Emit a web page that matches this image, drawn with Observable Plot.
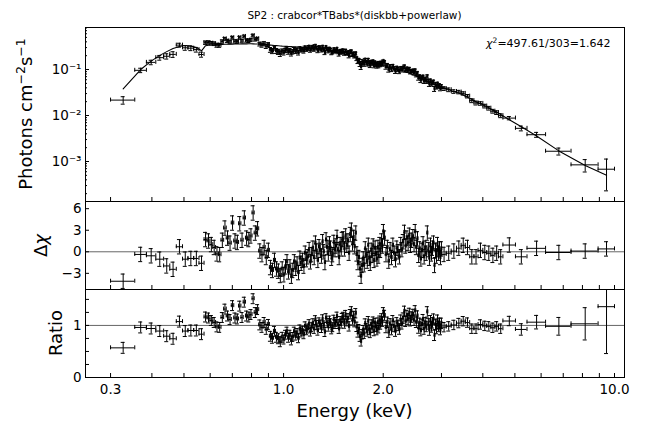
<!DOCTYPE html>
<html><head><meta charset="utf-8">
<script src="https://cdn.jsdelivr.net/npm/d3@7"></script>
<script src="https://cdn.jsdelivr.net/npm/@observablehq/plot@0.6"></script>
<style>
body{margin:0;background:#fff;}
#chart{position:relative;width:654px;height:425px;font-family:"DejaVu Sans",sans-serif;}
#chart svg{position:absolute;left:0;}
</style></head><body><div id="chart"></div>
<script>
// ---- data ----
const title = "SP2 : crabcor*TBabs*(diskbb+powerlaw)";
const chiText = "=497.61/303=1.642";

// energy bin edges (keV)
const edges = [0.300,0.355,0.385,0.411,0.434,0.453,0.474,0.495,0.514,0.535,0.555,0.575,
0.587,0.599,0.611,0.623,0.635,0.647,0.659,0.671,0.683,0.695,0.707,0.719,0.731,0.743,0.755,0.767,0.779,0.791,0.803,0.815,0.828,0.841,0.854,0.867,0.880,0.893,0.906,0.919,0.932,0.945,0.958,0.971,0.984,0.997,
1.008,1.019,1.029,1.040,1.051,1.061,1.072,1.083,1.093,1.104,1.115,1.125,1.136,1.147,1.157,1.168,1.179,1.189,1.200,1.211,1.221,1.232,1.243,1.253,1.264,1.275,1.285,1.296,1.307,1.317,1.328,1.339,1.349,1.360,1.371,1.381,1.392,1.403,1.413,1.424,1.435,1.445,1.456,1.467,1.477,1.488,1.499,1.509,
1.5215,1.534,1.5465,1.559,1.5715,1.584,1.5965,1.609,1.6215,1.634,1.6465,1.659,1.6715,1.684,1.6965,1.709,1.7215,1.734,1.7465,1.759,1.7715,1.784,1.7965,1.809,1.8215,1.834,1.8465,1.859,1.8715,1.884,1.8965,1.909,1.9215,1.934,1.9465,1.959,1.9715,1.984,1.9965,2.009,
2.029,2.049,2.069,2.089,2.109,2.129,2.149,2.169,2.189,2.209,2.229,2.249,2.269,2.289,2.309,2.329,2.349,2.369,2.389,2.409,2.429,2.449,2.469,2.489,2.509,2.529,2.549,2.569,2.589,2.609,2.629,2.649,2.669,2.689,2.709,2.729,2.749,2.769,2.789,2.809,2.829,2.849,2.869,2.889,2.909,2.929,2.949,2.969,2.989,3.009,
3.10,3.21,3.33,3.44,3.54,3.65,3.76,3.87,4.00,4.11,4.23,4.35,4.46,4.60,
5.02,5.44,6.19,7.39,8.92,10.0];

// model (photons cm^-2 s^-1) at each bin
const model = [0.038,0.100,0.152,0.203,0.245,0.287,0.316,0.333,0.323,0.300,0.255,
0.330,0.338,0.342,0.345,0.348,0.350,0.352,0.354,0.355,0.356,0.357,0.358,0.359,0.360,0.361,0.362,0.362,0.363,0.363,0.362,0.360,0.358,0.355,0.352,0.349,0.346,0.343,0.340,0.337,0.334,0.331,0.328,0.325,0.322,
0.321,0.319,0.318,0.317,0.315,0.314,0.313,0.312,0.311,0.310,0.309,0.308,0.307,0.306,0.305,0.303,0.302,0.301,0.300,0.298,0.297,0.296,0.294,0.292,0.289,0.286,0.284,0.281,0.278,0.275,0.272,0.268,0.265,0.262,0.259,0.256,0.253,0.250,0.247,0.245,0.242,0.239,0.237,0.234,0.231,0.229,0.226,0.223,
0.220,0.216,0.212,0.208,0.205,0.201,0.198,0.194,0.190,0.187,0.183,0.180,0.177,0.174,0.171,0.168,0.166,0.163,0.160,0.157,0.155,0.152,0.150,0.148,0.146,0.144,0.142,0.140,0.138,0.136,0.134,0.132,0.131,0.129,0.127,0.126,0.124,0.123,0.121,0.120,
0.120,0.118,0.116,0.114,0.112,0.110,0.108,0.106,0.104,0.102,0.100,0.098,0.096,0.095,0.093,0.091,0.089,0.087,0.085,0.083,0.081,0.079,0.077,0.076,0.074,0.072,0.070,0.069,0.067,0.065,0.064,0.062,0.060,0.059,0.057,0.056,0.054,0.053,0.052,0.050,0.049,0.048,0.047,0.046,0.045,0.044,0.0435,0.043,0.042,0.041,
0.040,0.037,0.033,0.031,0.028,0.025,0.0225,0.020,0.018,0.0162,0.0147,0.0130,0.0118,0.0106,
0.0081,0.0057,0.0036,0.0017,0.00082,0.00050];

// residuals (delta chi) per bin
const delchi = [-4.1,-0.37,-0.56,-1.03,-1.97,-2.44,0.7,-1.03,-0.93,-0.93,-1.6,
1.7,1.5,1.0,0.6,-0.3,-0.4,1.6,3.3,1.9,1.2,4.0,1.5,1.3,3.9,1.6,4.7,1.9,1.7,2.2,5.4,2.6,3.2,0.1,-0.4,0.6,-0.8,0.2,-2.2,-2.6,-1.2,-2.4,-2.7,-3.3,-2.4,
-3.2,-2.1,-1.4,-2.8,-2.1,-3.4,-2.6,-1.4,-2.3,-1.7,-2.9,-0.9,-1.6,-1.2,-2.0,-0.2,-1.1,-0.7,0.3,-1.4,-0.4,0.5,-0.8,1.2,0.1,-1.2,0.7,0.2,-0.6,1.4,0.0,-1.5,1.65,0.6,-0.3,1.1,0.5,-0.9,-0.4,1.3,0.3,0.8,2.0,0.3,-0.8,1.0,0.4,1.7,
1.8,0.4,2.2,0.9,1.5,-0.2,2.4,3.0,1.1,2.0,0.7,2.6,-0.3,-1.5,-0.8,-2.4,-3.4,-1.9,-1.0,-1.8,0.4,-0.6,-1.3,0.9,-0.9,-1.6,0.2,-0.5,0.8,-1.2,0.5,-0.3,-1.0,0.6,-0.6,1.0,0.2,1.5,0.8,2.8,
1.9,-0.4,0.6,-1.3,0.3,-0.8,0.9,-0.2,-1.1,0.5,0.0,-0.7,1.0,0.3,1.4,2.7,0.8,1.9,1.2,2.3,0.9,1.6,2.1,1.0,2.8,0.6,1.8,-0.5,0.4,-1.0,0.2,1.1,-0.7,0.5,-0.2,2.6,0.3,-0.9,0.9,-0.3,0.5,1.2,-1.9,0.2,-0.6,1.0,-0.2,0.4,-0.8,0.4,
-0.37,-0.2,0.1,0.5,0.9,0.6,-0.7,-0.7,0.2,-0.1,-0.2,-0.5,-0.2,-0.7,
0.94,-0.7,0.48,-0.1,0.1,0.4];

// ratio error per bin
const ratioErr = [0.105,0.105,0.105,0.105,0.105,0.105,0.105,0.105,0.105,0.105,0.105,
0.095,0.095,0.095,0.095,0.095,0.095,0.095,0.095,0.095,0.095,0.095,0.095,0.095,0.095,0.095,0.095,0.095,0.095,0.095,0.095,0.095,0.095,0.095,0.095,0.095,0.095,0.095,0.095,0.095,0.095,0.095,0.095,0.095,0.095,
0.085,0.085,0.085,0.085,0.085,0.085,0.085,0.085,0.085,0.085,0.085,0.085,0.085,0.085,0.085,0.085,0.085,0.085,0.085,0.085,0.085,0.085,0.085,0.085,0.085,0.085,0.085,0.085,0.085,0.085,0.085,0.085,0.085,0.085,0.085,0.085,0.085,0.085,0.085,0.085,0.085,0.085,0.085,0.085,0.085,0.085,0.085,0.085,
0.09,0.09,0.09,0.09,0.09,0.09,0.09,0.09,0.09,0.09,0.09,0.09,0.09,0.09,0.09,0.09,0.09,0.09,0.09,0.09,0.09,0.09,0.09,0.09,0.09,0.09,0.09,0.09,0.09,0.09,0.09,0.09,0.09,0.09,0.09,0.09,0.09,0.09,0.09,0.09,
0.1,0.1,0.1,0.1,0.1,0.1,0.1,0.1,0.1,0.1,0.1,0.1,0.1,0.1,0.1,0.1,0.1,0.1,0.1,0.1,0.1,0.1,0.1,0.1,0.1,0.1,0.1,0.1,0.1,0.1,0.1,0.1,0.1,0.1,0.1,0.1,0.1,0.1,0.1,0.1,0.1,0.1,0.1,0.1,0.1,0.1,0.1,0.1,0.1,0.1,
0.09,0.09,0.09,0.09,0.09,0.09,0.09,0.09,0.09,0.09,0.09,0.09,0.09,0.09,
0.09,0.11,0.13,0.17,0.31,0.9];

// axes
const xTicks = [0.3,0.4,0.5,0.6,0.7,0.8,0.9,1,2,3,4,5,6,7,8,9,10];
const xTickLabels = ["0.3","","","","0.7","","","1.0","2.0","","","5.0","","","","","10.0"];
const fluxTicks = [1e-3,1e-2,1e-1];
const fluxTickLabels = ["10⁻³","10⁻²","10⁻¹"];
const fluxMinorTicks = [2e-4,3e-4,4e-4,5e-4,6e-4,7e-4,8e-4,9e-4,2e-3,3e-3,4e-3,5e-3,6e-3,7e-3,8e-3,9e-3,2e-2,3e-2,4e-2,5e-2,6e-2,7e-2,8e-2,9e-2,2e-1,3e-1,4e-1,5e-1,6e-1,7e-1,8e-1];
const chiTicks = [-3,0,3,6];
const chiTickLabels = ["−3","0","3","6"];
const ratioTicks = [0,0.25,0.5,0.75,1,1.25,1.5];
const ratioTickLabels = ["0","","","","1","",""];

// ---- build table ----
const n = Math.min(model.length, delchi.length, ratioErr.length, edges.length - 1);
if (n !== model.length || n !== delchi.length || n !== ratioErr.length || n !== edges.length - 1)
  console.warn("length mismatch", model.length, delchi.length, ratioErr.length, edges.length - 1);
const bins = d3.range(n).map(i => {
  const lo = edges[i], hi = edges[i+1], E = (lo + hi) / 2;
  const m = model[i], d = delchi[i], e = ratioErr[i], r = 1 + d * e;
  return {lo, hi, E, m, d, e, r, f: m * r, fe: m * e};
});

const W = 654, ML = 85, MR = 30, FW = W - ML - MR;
const xDomain = [0.252, 10.72];
const baseStyle = {fontFamily: "DejaVu Sans", fontSize: "13.5px", background: "transparent", overflow: "visible", color: "#000"};
const lab = (ticks, labels) => { const mp = new Map(ticks.map((t, i) => [t, labels[i]])); return d => mp.get(d) ?? ""; };

function errMarks(yv, ylo, yhi) {
  const s = {stroke: "#000", strokeWidth: 1, clip: true};
  return [
    Plot.ruleY(bins, {y: yv, x1: "lo", x2: "hi", ...s}),
    Plot.ruleX(bins, {x: "E", y1: ylo, y2: yhi, ...s}),
    Plot.ruleY(bins, {y: ylo, x1: "E", x2: "E", insetLeft: -2, insetRight: -2, ...s}),
    Plot.ruleY(bins, {y: yhi, x1: "E", x2: "E", insetLeft: -2, insetRight: -2, ...s}),
    Plot.ruleX(bins, {x: "lo", y1: yv, y2: yv, insetTop: -2, insetBottom: -2, ...s}),
    Plot.ruleX(bins, {x: "hi", y1: yv, y2: yv, insetTop: -2, insetBottom: -2, ...s})
  ];
}
// inward tick marks on the left and bottom of a panel of frame height FH
function tickMarks(FH, yMajor, yMinor) {
  const marks = [
    Plot.ruleX(xTicks, {x: d => d, insetTop: FH - 4, stroke: "#000"}),
    Plot.ruleY(yMajor, {y: d => d, insetRight: FW - 4, stroke: "#000"})
  ];
  if (yMinor) marks.push(Plot.ruleY(yMinor, {y: d => d, insetRight: FW - 2, stroke: "#000"}));
  return marks;
}

const chart = document.getElementById("chart");

const p1 = Plot.plot({
  width: W, height: 202, marginTop: 27, marginBottom: 1, marginLeft: ML, marginRight: MR,
  style: baseStyle,
  x: {type: "log", domain: xDomain, axis: null},
  y: {type: "log", domain: [1.35e-4, 0.82], axis: null},
  marks: [
    ...errMarks("f", d => d.f - d.fe, d => d.f + d.fe),
    Plot.line(bins, {x: "E", y: "m", stroke: "#000", strokeWidth: 1.1}),
    ...tickMarks(174, fluxTicks, fluxMinorTicks),
    Plot.axisY(fluxTicks, {anchor: "left", tickSize: 0, tickPadding: 4, tickFormat: lab(fluxTicks, fluxTickLabels), label: null}),
    Plot.frame({stroke: "#000"})
  ]
});
p1.style.top = "0px";
chart.appendChild(p1);

const p2 = Plot.plot({
  width: W, height: 90, marginTop: 1, marginBottom: 1, marginLeft: ML, marginRight: MR,
  style: baseStyle,
  x: {type: "log", domain: xDomain, axis: null},
  y: {domain: [-5.25, 7.0], axis: null},
  marks: [
    Plot.ruleY([0], {stroke: "#666", strokeWidth: 1}),
    ...errMarks("d", d => d.d - 1, d => d.d + 1),
    ...tickMarks(88, chiTicks),
    Plot.axisY(chiTicks, {anchor: "left", tickSize: 0, tickPadding: 4, tickFormat: lab(chiTicks, chiTickLabels), label: null}),
    Plot.frame({stroke: "#000"})
  ]
});
p2.style.top = "200px";
chart.appendChild(p2);

const p3 = Plot.plot({
  width: W, height: 137, marginTop: 1, marginBottom: 48, marginLeft: ML, marginRight: MR,
  style: baseStyle,
  x: {type: "log", domain: xDomain},
  y: {domain: [0, 1.69]},
  marks: [
    Plot.ruleY([1], {stroke: "#666", strokeWidth: 1}),
    ...errMarks("r", d => d.r - d.e, d => d.r + d.e),
    ...tickMarks(88, ratioTicks),
    Plot.axisY(ratioTicks, {anchor: "left", tickSize: 0, tickPadding: 4, tickFormat: lab(ratioTicks, ratioTickLabels), label: null}),
    Plot.axisX(xTicks, {anchor: "bottom", tickSize: 0, tickPadding: 7, tickFormat: lab(xTicks, xTickLabels), label: null}),
    Plot.frame({stroke: "#000"})
  ]
});
p3.style.top = "288px";
chart.appendChild(p3);

// ---- overlay text (title, axis titles, statistic) ----
const ov = d3.select(chart).append("svg")
  .attr("width", W).attr("height", 425)
  .style("top", "0px").style("pointer-events", "none")
  .attr("font-family", "DejaVu Sans").attr("fill", "#000");

ov.append("text").attr("x", 354.5).attr("y", 18.5).attr("text-anchor", "middle")
  .attr("font-size", 10.5).text(title);

const chi = ov.append("text").attr("x", 610.5).attr("y", 47).attr("text-anchor", "end").attr("font-size", 11);
chi.append("tspan").attr("font-style", "italic").text("χ");
chi.append("tspan").attr("font-size", 7.5).attr("dy", -4.5).text("2");
chi.append("tspan").attr("dy", 4.5).text(chiText);

const yl1 = ov.append("text").attr("transform", "translate(32,114) rotate(-90)").attr("text-anchor", "middle").attr("font-size", 18);
yl1.append("tspan").text("Photons cm");
yl1.append("tspan").attr("font-size", 12.5).attr("dy", -7).text("−2");
yl1.append("tspan").attr("dy", 7).text("s");
yl1.append("tspan").attr("font-size", 12.5).attr("dy", -7).text("−1");

const yl2 = ov.append("text").attr("transform", "translate(46.5,245.5) rotate(-90)").attr("text-anchor", "middle").attr("font-size", 18);
yl2.append("tspan").text("Δ");
yl2.append("tspan").attr("font-style", "italic").text("χ");

ov.append("text").attr("transform", "translate(61.5,333) rotate(-90)").attr("text-anchor", "middle")
  .attr("font-size", 18).text("Ratio");

ov.append("text").attr("x", 354.5).attr("y", 416.5).attr("text-anchor", "middle")
  .attr("font-size", 18).text("Energy (keV)");
</script>
</body></html>
